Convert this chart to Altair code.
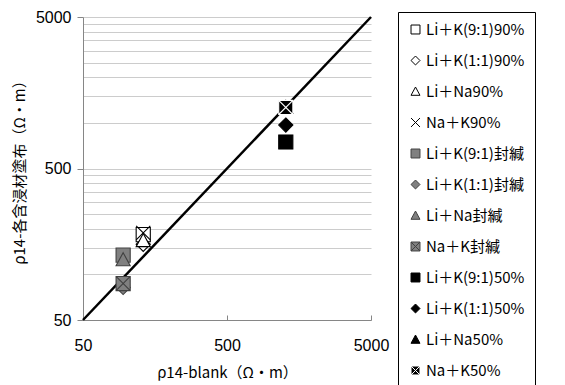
import altair as alt
import pandas as pd

# ---------------- data ----------------
series = ["Li＋K(9:1)90%", "Li＋K(1:1)90%", "Li＋Na90%", "Na＋K90%",
          "Li＋K(9:1)封緘", "Li＋K(1:1)封緘", "Li＋Na封緘", "Na＋K封緘",
          "Li＋K(9:1)50%", "Li＋K(1:1)50%", "Li＋Na50%", "Na＋K50%"]
rho_blank = [131, 131, 131, 131, 95, 95, 95, 95, 1280, 1280, 1280, 1280]
rho_coated = [183, 158, 167, 188, 134, 82, 125, 87, 748, 968, 1265, 1265]

diag_x = [50, 5000]
diag_y = [50, 5000]

x_ticks = [50, 500, 5000]
y_grid = [50, 100, 150, 200, 250, 300, 350, 400, 450, 500,
          1000, 1500, 2000, 2500, 3000, 3500, 4000, 4500, 5000]

# ---------------- styles ----------------
SQ = "M-1,-1H1V1H-1Z"
DI = "M0,-1L1,0L0,1L-1,0Z"
TR = "M0,-1L1,0.85L-1,0.85Z"
XX = "M-1,-1L1,1M1,-1L-1,1"
SQX = "M-1,-1H1V1H-1ZM-1,-1L1,1M1,-1L-1,1"
shapes = [SQ, DI, TR, XX, SQ, DI, TR, SQX, SQ, DI, TR, SQX]
GRAY = "#808080"
DARK = "#404040"
fills = ["white"] * 4 + [GRAY] * 4 + ["black"] * 4
strokes = ["black"] * 4 + [DARK] * 4 + ["black"] * 3 + ["white"]

pts = pd.DataFrame({"series": series, "x": rho_blank, "y": rho_coated})
diag = pd.DataFrame({"x": diag_x, "y": diag_y})

JP = "Noto Sans CJK JP"
NUM = "Liberation Sans"

xscale = alt.Scale(type="log", domain=[50, 5000], nice=False)
yscale = alt.Scale(type="log", domain=[50, 5000], nice=False)

xaxis = alt.Axis(values=x_ticks, format="d", grid=False, title="ρ14-blank（Ω・m）",
                 titleFont=JP, titleFontSize=15, titleFontWeight="normal", titleColor="black",
                 titlePadding=12, labelFont=NUM, labelFontSize=16, labelColor="black",
                 labelPadding=22, labelFlush=False, labelOverlap=False,
                 domainColor="#868686", tickColor="#868686", tickSize=alt.ExprRef(expr="-5"))
yaxis = alt.Axis(values=y_grid, format="d", grid=True, gridColor="#cccccc", gridWidth=1,
                 labelExpr="indexof([50,500,5000], datum.value) >= 0 ? datum.label : ''",
                 labelOverlap=False, labelFont=NUM, labelFontSize=16, labelColor="black",
                 labelPadding=6, tickSize=6, tickColor="#868686",
                 tickOpacity={"condition": {"test": "indexof([50,500,5000], datum.value) >= 0", "value": 1}, "value": 0},
                 domainColor="#868686",
                 title="ρ14-各含浸材塗布（Ω・m）", titleFont=JP, titleFontSize=15,
                 titleFontWeight="normal", titleColor="black", titlePadding=8)

leg = alt.Legend(title=None, orient="none", legendX=315, legendY=-5,
                 strokeColor="black", fillColor="white", padding=10,
                 symbolSize=80, symbolStrokeWidth=1,
                 labelFont=JP, labelFontSize=15, labelColor="black",
                 labelOffset=3, rowPadding=15, labelLimit=300)

line = alt.Chart(diag).mark_line(color="black", strokeWidth=2.5).encode(
    x=alt.X("x:Q", scale=xscale, axis=xaxis),
    y=alt.Y("y:Q", scale=yscale, axis=yaxis),
)

points = alt.Chart(pts).mark_point(size=200, opacity=1, fillOpacity=1, strokeOpacity=1,
                                   strokeWidth=1.1).encode(
    x=alt.X("x:Q", scale=xscale, axis=xaxis),
    y=alt.Y("y:Q", scale=yscale, axis=yaxis),
    shape=alt.Shape("series:N", scale=alt.Scale(domain=series, range=shapes), legend=leg, sort=series),
    fill=alt.Fill("series:N", scale=alt.Scale(domain=series, range=fills), legend=leg, sort=series),
    stroke=alt.Stroke("series:N", scale=alt.Scale(domain=series, range=strokes), legend=leg, sort=series),
    order=alt.Order("idx:Q"),
).transform_window(idx="row_number()")

chart = alt.layer(line, points).properties(
    width=288, height=303,
    padding={"left": 83, "top": 17, "right": 194, "bottom": 65},
    autosize=alt.AutoSizeParams(type="none"),
    background="white",
).configure_view(stroke=None)

chart.save("out.html", embed_options={"renderer": "svg", "actions": False})
